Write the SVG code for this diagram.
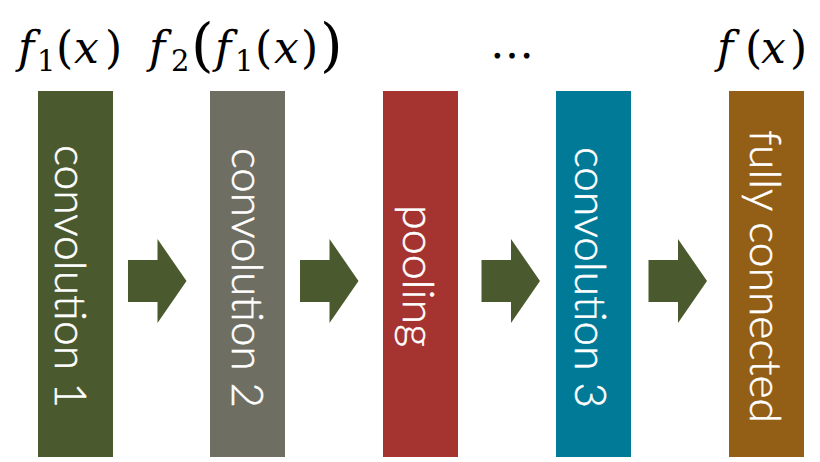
<svg xmlns="http://www.w3.org/2000/svg" width="820" height="462" viewBox="0 0 820 462">
  <style>
    .bar-label { font-family: Lato, "Open Sans", "Liberation Sans", sans-serif; font-weight: 300; font-size: 43px; fill: #ffffff; stroke: #ffffff; stroke-width: 0.5px; text-anchor: middle; }
    .math { font-family: "DejaVu Serif", "Liberation Serif", serif; font-size: 44px; fill: #000000; }
    .it { font-style: italic; }
    .sub { font-size: 29px; }
  </style>
  <defs>
    <!-- block arrow, origin at left end of shaft, vertically centred -->
    <path id="block-arrow" d="M0,-21 L29.5,-21 L29.5,-42 L58.5,0 L29.5,42 L29.5,21 L0,21 Z" fill="#4B5A2E"/>
  </defs>

  <rect width="820" height="462" fill="#ffffff"/>

  <!-- layer blocks -->
  <g id="conv1">
    <rect x="38" y="91" width="75" height="366" fill="#4B5A2E"/>
    <text class="bar-label" transform="translate(55,276.5) rotate(90)" textLength="263" lengthAdjust="spacingAndGlyphs">convolution 1</text>
  </g>
  <g id="conv2">
    <rect x="210" y="91" width="75" height="366" fill="#6E6E62"/>
    <text class="bar-label" transform="translate(232,278) rotate(90)" textLength="260" lengthAdjust="spacingAndGlyphs">convolution 2</text>
  </g>
  <g id="pooling">
    <rect x="383" y="91" width="75" height="366" fill="#A53330"/>
    <text class="bar-label" transform="translate(403,276) rotate(90)" textLength="142" lengthAdjust="spacingAndGlyphs">pooling</text>
  </g>
  <g id="conv3">
    <rect x="556" y="91" width="75" height="366" fill="#007A97"/>
    <text class="bar-label" transform="translate(575,277.5) rotate(90)" textLength="261" lengthAdjust="spacingAndGlyphs">convolution 3</text>
  </g>
  <g id="fc">
    <rect x="729" y="91" width="75" height="366" fill="#935E16"/>
    <text class="bar-label" transform="translate(750,276.5) rotate(90)" textLength="293" lengthAdjust="spacingAndGlyphs">fully connected</text>
  </g>

  <!-- connectors -->
  <g id="connectors">
    <use href="#block-arrow" x="128" y="281"/>
    <use href="#block-arrow" x="300" y="281"/>
    <use href="#block-arrow" x="481.5" y="281"/>
    <use href="#block-arrow" x="648.5" y="281"/>
  </g>

  <!-- function labels -->
  <g id="labels">
    <text class="math" y="63"><tspan class="it" x="18">f</tspan><tspan class="sub" x="37" y="71">1</tspan><tspan x="56" y="63">(</tspan><tspan class="it" x="74">x</tspan><tspan x="105">)</tspan></text>
    <text class="math" y="63"><tspan class="it" x="149">f</tspan><tspan class="sub" x="171" y="71">2</tspan><tspan x="191" y="65" font-size="58">(</tspan><tspan class="it" x="215" y="63">f</tspan><tspan class="sub" x="235" y="71">1</tspan><tspan x="255" y="63">(</tspan><tspan class="it" x="274">x</tspan><tspan x="301">)</tspan><tspan x="320" y="65" font-size="58">)</tspan></text>
    <text class="math" x="490" y="58" font-size="30">…</text>
    <text class="math" y="63"><tspan class="it" x="717">f</tspan><tspan x="745">(</tspan><tspan class="it" x="761">x</tspan><tspan x="790">)</tspan></text>
  </g>
</svg>
